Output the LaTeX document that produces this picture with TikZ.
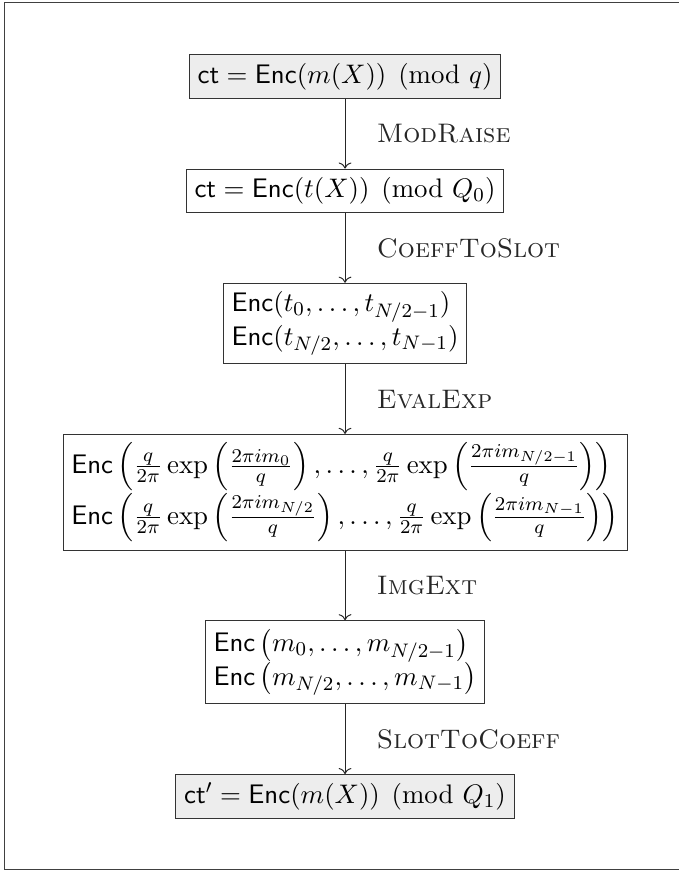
\documentclass[tikz,border=0pt,11pt]{standalone}
\usepackage{amsmath}
\usepackage{amssymb}
\usepackage{tikz}
\usetikzlibrary{arrows.meta,calc,positioning}
\tikzset{
	flow/.style={
		node distance=1cm,
		every label/.style={font=\normalsize}
		},
	bx/.style={draw=black!80, align=left, inner sep=3.4pt},
	bx gray/.style={bx, fill=black!7},
	ar/.style={->, black!85},
	step name/.style={midway, right=.45cm, inner sep=0pt}
}

\begin{document}
\begin{tikzpicture}[flow]
	\useasboundingbox (0,0) rectangle (9.74,-12.51);
	\draw[black!75] (0.07,-0.03) rectangle (9.80,-12.48);
	% the states of the ciphertext, top to bottom
	\node[bx gray] (ct0) at (4.95,-1.10) {$\mathsf{ct} = \mathsf{Enc}(m(X)) \pmod{q}$};
	\node[bx, below=of ct0] (tX) {$\mathsf{ct} = \mathsf{Enc}(t(X)) \pmod{Q_0}$};
	\node[bx, below=of tX] (tslot) {$\mathsf{Enc}(t_0,\ldots,t_{N/2-1})$\\
		$\mathsf{Enc}(t_{N/2},\ldots,t_{N-1})$};
	\node[bx, below=of tslot] (eslot) {$\mathsf{Enc}\left(\frac{q}{2\pi}\exp\left(\frac{2\pi i m_0}{q}\right),\ldots,\frac{q}{2\pi}\exp\left(\frac{2\pi i m_{N/2-1}}{q}\right)\right)$\\
		$\mathsf{Enc}\left(\frac{q}{2\pi}\exp\left(\frac{2\pi i m_{N/2}}{q}\right),\ldots,\frac{q}{2\pi}\exp\left(\frac{2\pi i m_{N-1}}{q}\right)\right)$};
	\node[bx, below=of eslot] (mslot) {$\mathsf{Enc}\left(m_0,\ldots,m_{N/2-1}\right)$\\
		$\mathsf{Enc}\left(m_{N/2},\ldots,m_{N-1}\right)$};
	\node[bx gray, below=of mslot] (ct1) {$\mathsf{ct}' = \mathsf{Enc}(m(X)) \pmod{Q_1}$};
	% the steps
	\draw[ar] (ct0) -- node[step name] {\textsc{ModRaise}} (tX);
	\draw[ar] (tX) -- node[step name] {\textsc{CoeffToSlot}} (tslot);
	\draw[ar] (tslot) -- node[step name] {\textsc{EvalExp}} (eslot);
	\draw[ar] (eslot) -- node[step name] {\textsc{ImgExt}} (mslot);
	\draw[ar] (mslot) -- node[step name] {\textsc{SlotToCoeff}} (ct1);
\end{tikzpicture}
\end{document}
